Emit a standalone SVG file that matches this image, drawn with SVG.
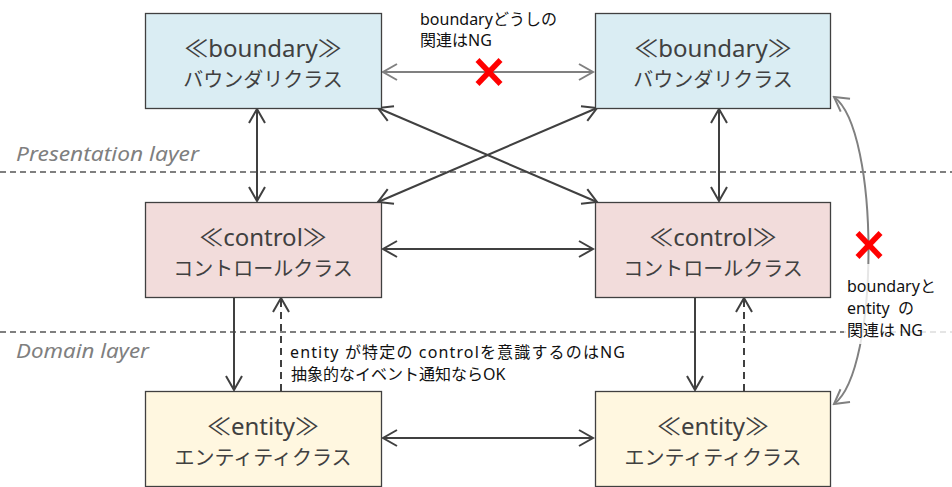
<svg xmlns="http://www.w3.org/2000/svg" width="952" height="487" viewBox="0 0 952 487">
<style>
.box{stroke:#404040;stroke-width:1.3}
.b{fill:#daedf3}.c{fill:#f2dcdb}.e{fill:#fff7e0}
.t1{font-family:"Noto Sans","Noto Sans CJK JP",sans-serif;font-size:24px;fill:#404040;text-anchor:middle}
.t2{font-family:"Noto Sans CJK JP","Noto Sans",sans-serif;font-size:20px;fill:#404040;text-anchor:middle}
.note{font-family:"Noto Sans","Noto Sans CJK JP",sans-serif;font-size:16px;fill:#111}
.layer{font-family:"Noto Sans","Liberation Sans",sans-serif;font-style:italic;font-size:20px;fill:#7f7f7f}
.sep{stroke:#7f7f7f;stroke-width:2;stroke-dasharray:6 4;fill:none}
.con{stroke:#404040;stroke-width:2;fill:none}
.gray{stroke:#808080;stroke-width:2;fill:none}
.dash{stroke-dasharray:7 5}
.x{stroke:#ff0000;stroke-width:5.5;fill:none}
</style>
<defs>
<marker id="ah" viewBox="-16 -10 18 20" refX="0" refY="0" markerWidth="18" markerHeight="20" markerUnits="userSpaceOnUse" orient="auto-start-reverse">
<path d="M-14,-8 L0,0 L-14,8" fill="none" stroke="#404040" stroke-width="2"/>
</marker>
<marker id="ahg" viewBox="-16 -10 18 20" refX="0" refY="0" markerWidth="18" markerHeight="20" markerUnits="userSpaceOnUse" orient="auto-start-reverse">
<path d="M-14,-8 L0,0 L-14,8" fill="none" stroke="#808080" stroke-width="2"/>
</marker>
</defs>
<rect width="952" height="487" fill="#ffffff"/>
<g id="layers">
<line class="sep" x1="0" y1="172" x2="952" y2="172"/>
<line class="sep" x1="0" y1="332" x2="952" y2="332"/>
<text class="layer" x="16" y="161" textLength="183" lengthAdjust="spacingAndGlyphs">Presentation layer</text>
<text class="layer" x="16" y="358" textLength="133" lengthAdjust="spacingAndGlyphs">Domain layer</text>
</g>
<g id="connectors">
<line class="gray" x1="383" y1="72" x2="593" y2="72" marker-start="url(#ahg)" marker-end="url(#ahg)"/>
<line class="con" x1="257" y1="109" x2="257" y2="201" marker-start="url(#ah)" marker-end="url(#ah)"/>
<line class="con" x1="719" y1="109" x2="719" y2="201" marker-start="url(#ah)" marker-end="url(#ah)"/>
<line class="con" x1="378" y1="108" x2="597" y2="202" marker-start="url(#ah)" marker-end="url(#ah)"/>
<line class="con" x1="597" y1="108" x2="378" y2="202" marker-start="url(#ah)" marker-end="url(#ah)"/>
<line class="con" x1="383" y1="249" x2="593" y2="249" marker-start="url(#ah)" marker-end="url(#ah)"/>
<line class="con" x1="234" y1="297" x2="234" y2="390" marker-end="url(#ah)"/>
<line class="con dash" x1="281" y1="391" x2="281" y2="298" marker-end="url(#ah)"/>
<line class="con" x1="695" y1="297" x2="695" y2="390" marker-end="url(#ah)"/>
<line class="con dash" x1="744" y1="391" x2="744" y2="298" marker-end="url(#ah)"/>
<line class="con" x1="383" y1="438" x2="593" y2="438" marker-start="url(#ah)" marker-end="url(#ah)"/>
<path class="gray" d="M834,97 C880,130 880,370 834,404" marker-start="url(#ahg)" marker-end="url(#ahg)"/>
</g>
<g id="boundary-left">
<rect class="box b" x="145.5" y="13.5" width="236" height="95"/>
<text class="t1" x="263" y="57">≪boundary≫</text>
<text class="t2" x="263" y="87">バウンダリクラス</text>
</g>
<g id="boundary-right">
<rect class="box b" x="595.5" y="13.5" width="235" height="95"/>
<text class="t1" x="713" y="57">≪boundary≫</text>
<text class="t2" x="713" y="87">バウンダリクラス</text>
</g>
<g id="control-left">
<rect class="box c" x="145.5" y="202.5" width="236" height="95"/>
<text class="t1" x="263" y="246">≪control≫</text>
<text class="t2" x="263" y="276">コントロールクラス</text>
</g>
<g id="control-right">
<rect class="box c" x="595.5" y="202.5" width="235" height="95"/>
<text class="t1" x="713" y="246">≪control≫</text>
<text class="t2" x="713" y="276">コントロールクラス</text>
</g>
<g id="entity-left">
<rect class="box e" x="145.5" y="391.5" width="236" height="95"/>
<text class="t1" x="263" y="435">≪entity≫</text>
<text class="t2" x="263" y="465">エンティティクラス</text>
</g>
<g id="entity-right">
<rect class="box e" x="595.5" y="391.5" width="235" height="95"/>
<text class="t1" x="713" y="435">≪entity≫</text>
<text class="t2" x="713" y="465">エンティティクラス</text>
</g>
<g id="note-top">
<text class="note" x="420" y="25">boundaryどうしの</text>
<text class="note" x="420" y="46">関連はNG</text>
<g class="x"><line x1="477.5" y1="60" x2="500.5" y2="84"/><line x1="500.5" y1="60" x2="477.5" y2="84"/></g>
</g>
<g id="note-middle">
<text class="note" x="290" y="358" textLength="335" lengthAdjust="spacing">entity が特定の controlを意識するのはNG</text>
<text class="note" x="291" y="380">抽象的なイベント通知ならOK</text>
</g>
<g id="note-right">
<g class="x"><line x1="857.5" y1="233" x2="880.5" y2="257"/><line x1="880.5" y1="233" x2="857.5" y2="257"/></g>
<rect x="844" y="264" width="108" height="80" fill="#ffffff" fill-opacity="0.8"/>
<text class="note" x="847" y="292">boundaryと</text>
<text class="note" x="847" y="314" xml:space="preserve">entity  の</text>
<text class="note" x="847" y="336">関連は NG</text>
</g>
</svg>
